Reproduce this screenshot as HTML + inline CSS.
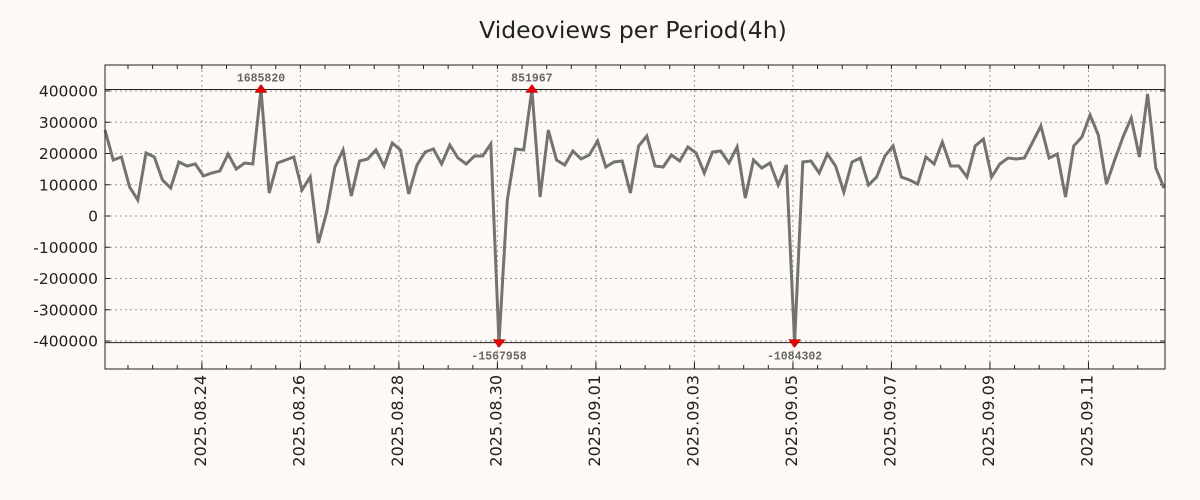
<!DOCTYPE html>
<html><head><meta charset="utf-8"><style>
body{margin:0;background:#fdf9f5;}
svg{display:block;font-family:"DejaVu Sans","Liberation Sans",sans-serif;}
</style></head><body>
<svg id="chart" width="1200" height="500">
<rect width="1200" height="500" fill="#fdf9f5"/>
<text x="633" y="38" font-size="23.5" text-anchor="middle" fill="#222">Videoviews per Period(4h)</text>
<g id="grid"></g><g id="axes"></g><g id="series"></g><g id="marks"></g>
<rect x="105" y="65" width="1060" height="304" fill="none" stroke="#222" stroke-width="1"/>
</svg>
<script>
const values=[275200,179200,188800,92800,51200,201600,188800,115200,89600,172800,160000,166400,128000,137600,144000,198400,150400,169600,166400,1685820,73600,169600,179200,188800,83200,124800,-86400,12800,156800,211200,64000,176000,182400,211200,
160000,233600,211200,70400,163200,204800,214400,166400,227200,185600,166400,192000,192000,230400,-1567958,51200,214400,211200,851967,60800,275200,179200,163200,208000,182400,195200,240000,156800,172800,176000,73600,224000,256000,
160000,156800,195200,176000,220800,201600,137600,204800,208000,169600,220800,57600,179200,153600,169600,99200,163200,-1084302,172800,176000,137600,198400,160000,76800,172800,185600,99200,124800,192000,224000,124800,115200,102400,
188800,166400,236800,160000,160000,124800,224000,246400,124800,166400,185600,182400,185600,236800,288000,185600,198400,60800,224000,252800,323200,259200,102400,179200,252800,313600,188800,390400,153600,89600];
const yTicks=[400000,300000,200000,100000,0,-100000,-200000,-300000,-400000];
const xTickLabels=["2025.08.24","2025.08.26","2025.08.28","2025.08.30","2025.09.01","2025.09.03","2025.09.05","2025.09.07","2025.09.09","2025.09.11"];
const xTickDays=[0,2,4,6,8,10,12,14,16,18];
const clipVal=405000;
const NS="http://www.w3.org/2000/svg";
const L=105,R=1165,T=65,B=369;
const step=(R-1-L)/(values.length-1);
const X=i=>L+i*step;
const Y=v=>216-v*125/400000;
const dayX=d=>X(11.8+d*6);
function mk(tag,attrs,parent){const e=document.createElementNS(NS,tag);for(const k in attrs)e.setAttribute(k,attrs[k]);document.getElementById(parent).appendChild(e);return e;}
yTicks.forEach(v=>{
 const g=mk('line',{x1:L,x2:R,y1:Y(v),y2:Y(v),stroke:'#999','stroke-dasharray':'2,3'},'grid');
 
 
 mk('line',{x1:L,x2:L+5,y1:Y(v),y2:Y(v),stroke:'#222'},'axes');
 mk('line',{x1:R-5,x2:R,y1:Y(v),y2:Y(v),stroke:'#222'},'axes');
 const t=mk('text',{x:L-7,y:Y(v)+5.5,'font-size':15.5,'text-anchor':'end',fill:'#222'},'axes');
 t.textContent=v;
 
 
});
for(let h=-4;h<=38;h++){const x=dayX(h/2);if(x<L||x>R)continue;
 mk('line',{x1:x,x2:x,y1:T,y2:T+4,stroke:'#222'},'axes');
 mk('line',{x1:x,x2:x,y1:B-4,y2:B,stroke:'#222'},'axes');}
xTickDays.forEach((d,i)=>{const x=dayX(d);
 const g=mk('line',{x1:x,x2:x,y1:T,y2:B,stroke:'#999','stroke-dasharray':'2,3'},'grid');
 
 
 mk('line',{x1:x,x2:x,y1:B-7,y2:B,stroke:'#222'},'axes');
 const t=mk('text',{x:0,y:0,'font-size':16,'text-anchor':'end',fill:'#222',transform:`translate(${x+4},375) rotate(-90)`},'axes');
 t.textContent=xTickLabels[i];
 
 
});
[clipVal,-clipVal].forEach(v=>{const l=mk('line',{x1:L,x2:R,y1:Y(v),y2:Y(v),stroke:'#222','stroke-width':1},'axes');
 
 });
const pts=values.map((v,i)=>X(i).toFixed(1)+','+Y(Math.max(-clipVal,Math.min(clipVal,v))).toFixed(1)).join(' ');
const pl=mk('polyline',{points:pts,fill:'none',stroke:'#737373','stroke-width':3,'stroke-linejoin':'miter'},'series');


values.forEach((v,i)=>{if(Math.abs(v)<=clipVal)return;const x=X(i);
 const up=v>0;const y=Y(up?clipVal:-clipVal);
 const tri=mk('polygon',{points:up?`${x-6},${y+3} ${x+6},${y+3} ${x},${y-5}`:`${x-6},${y-3} ${x+6},${y-3} ${x},${y+5}`,fill:'#e00',stroke:'#900','stroke-width':0.5},'marks');
 
 
 const t=mk('text',{x:x,y:up?y-8:y+17,'font-size':11.5,'font-weight':'bold','text-anchor':'middle',fill:'#666','font-family':'"Liberation Mono",monospace'},'marks');
 t.textContent=v;
 
 
});
</script>
</body></html>
